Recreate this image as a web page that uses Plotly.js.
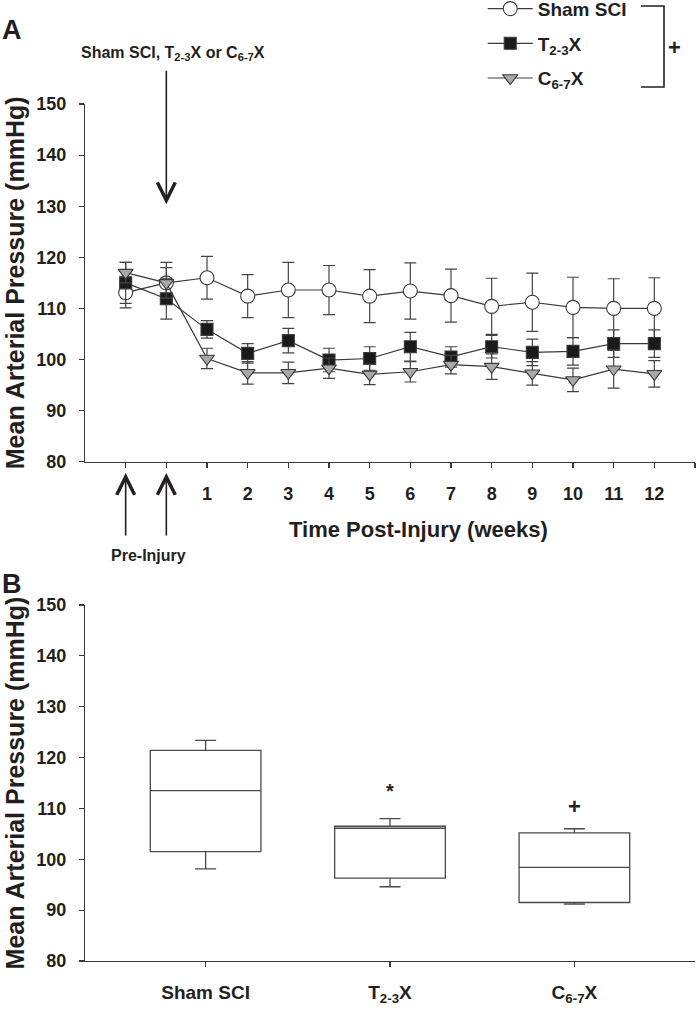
<!DOCTYPE html>
<html><head><meta charset="utf-8">
<script src="https://cdn.plot.ly/plotly-3.0.1.min.js"></script>
<style>html,body{margin:0;padding:0;background:#fff}</style>
</head><body>
<div id="chart" style="width:696px;height:1014px"></div>
<script>
// ---- Panel A data (time course) ----
const timePoints = [-1, 0, 1, 2, 3, 4, 5, 6, 7, 8, 9, 10, 11, 12];
const tickVals = [-1, 0, 1, 2, 3, 4, 5, 6, 7, 8, 9, 10, 11, 12, 13];
const tickLabels = ['', '', '1', '2', '3', '4', '5', '6', '7', '8', '9', '10', '11', '12', ''];
const shamMean = [113.1, 115.0, 116.0, 112.4, 113.6, 113.6, 112.4, 113.4, 112.5, 110.4, 111.2, 110.2, 110.0, 110.0];
const shamErr  = [3.0, 4.0, 4.2, 4.2, 5.4, 4.8, 5.2, 5.5, 5.2, 5.5, 5.7, 5.9, 5.8, 6.0];
const t23Mean  = [115.0, 111.9, 105.9, 101.2, 103.7, 99.9, 100.2, 102.5, 100.5, 102.5, 101.4, 101.6, 103.1, 103.1];
const t23Err   = [4.0, 4.0, 1.7, 1.9, 2.4, 2.3, 2.3, 2.8, 2.0, 2.2, 2.6, 2.7, 2.7, 2.7];
const c67Mean  = [117.0, 115.0, 100.2, 97.4, 97.4, 98.3, 97.1, 97.6, 99.0, 98.6, 97.3, 96.0, 98.1, 97.2];
const c67Err   = [2.0, 3.0, 2.0, 2.2, 2.1, 2.0, 2.0, 2.0, 1.8, 2.5, 2.3, 2.3, 3.7, 2.6];
const groupNames = ['Sham SCI', 'T<sub>2-3</sub>X', 'C<sub>6-7</sub>X'];

// ---- Panel B data (box plots) ----
const boxPos      = [0, 1, 2];
const boxLower    = [98.1, 94.6, 91.2];
const boxQ1       = [101.5, 96.3, 91.5];
const boxMedian   = [113.5, 106.1, 98.4];
const boxQ3       = [121.4, 106.5, 105.2];
const boxUpper    = [123.4, 108.0, 106.0];
const yTicks      = [80, 90, 100, 110, 120, 130, 140, 150];

const FONT = 'Liberation Sans, Arial, Helvetica, sans-serif';
const INK = '#231f20';
const LINE = '#3a3a3a';

function series(name, y, err, symbol, fill, size) {
  return {
    type: 'scatter', mode: 'lines+markers', name: name, legendgroup: name,
    x: timePoints, y: y, xaxis: 'x', yaxis: 'y',
    line: {color: LINE, width: 1.2},
    marker: {symbol: symbol, size: size, color: fill, line: {color: LINE, width: 1.1}},
    error_y: {type: 'data', array: err, visible: true, color: '#444', thickness: 1.2, width: 6}
  };
}

const traces = [
  series(groupNames[0], shamMean, shamErr, 'circle', '#ffffff', 14),
  series(groupNames[1], t23Mean, t23Err, 'square', '#1a1a1a', 12),
  series(groupNames[2], c67Mean, c67Err, 'triangle-down', '#a8a8a8', 13),
  {
    type: 'box', x: boxPos, xaxis: 'x2', yaxis: 'y2', showlegend: false,
    q1: boxQ1, median: boxMedian, q3: boxQ3, lowerfence: boxLower, upperfence: boxUpper,
    width: 0.6, whiskerwidth: 0.19, fillcolor: 'rgba(255,255,255,0)',
    line: {color: '#4a4a4a', width: 1.3}, boxpoints: false, hoverinfo: 'skip'
  }
];

const tickFont = {family: FONT, size: 18, color: INK, weight: 'bold'};
const yTitle = {text: 'Mean Arterial Pressure (mmHg)', font: {family: FONT, size: 25, color: INK, weight: 'bold'}, standoff: 4};

function ann(o) {
  return Object.assign({xanchor: 'center', yanchor: 'middle', showarrow: false}, o);
}

const layout = {
  width: 696, height: 1014,
  margin: {l: 85, r: 1, t: 104, b: 53, autoexpand: false},
  paper_bgcolor: '#fff', plot_bgcolor: '#fff',
  showlegend: true,
  legend: {x: 0.652, xanchor: 'left', y: 1.1333, yanchor: 'top', font: {family: FONT, size: 19, color: INK, weight: 'bold'},
           bgcolor: 'rgba(0,0,0,0)', traceorder: 'grouped', tracegroupgap: 7, itemwidth: 45},
  xaxis: {domain: [0, 1], anchor: 'y', range: [-2, 13], tickvals: tickVals, ticktext: tickLabels,
          ticks: 'outside', ticklen: 5, tickwidth: 1.2, tickcolor: LINE, showline: true, linecolor: LINE, linewidth: 1.2,
          showgrid: false, zeroline: false, tickfont: tickFont, ticklabelstandoff: 10},
  yaxis: {domain: [0.5826, 1], anchor: 'x', range: [80, 150], tickvals: yTicks,
          ticks: 'outside', ticklen: 5, tickwidth: 1.2, tickcolor: LINE, showline: true, linecolor: LINE, linewidth: 1.2,
          showgrid: false, zeroline: false, tickfont: tickFont, ticklabelstandoff: 9, title: yTitle},
  xaxis2: {domain: [0, 1], anchor: 'y2', range: [-0.654, 2.654], tickvals: boxPos, ticktext: groupNames,
          ticks: 'outside', ticklen: 5, tickwidth: 1.2, tickcolor: LINE, showline: true, linecolor: LINE, linewidth: 1.2,
          showgrid: false, zeroline: false, tickfont: {family: FONT, size: 19, color: INK, weight: 'bold'}, ticklabelstandoff: 9},
  yaxis2: {domain: [0, 0.4154], anchor: 'x2', range: [80, 150], tickvals: yTicks,
          ticks: 'outside', ticklen: 5, tickwidth: 1.2, tickcolor: LINE, showline: true, linecolor: LINE, linewidth: 1.2,
          showgrid: false, zeroline: false, tickfont: tickFont, ticklabelstandoff: 9, title: yTitle},
  shapes: [
    {type: 'path', xref: 'paper', yref: 'paper', path: 'M0.9115,1.1144 L0.9492,1.1144 L0.9492,1.0198 L0.9115,1.0198',
     line: {color: INK, width: 1.6}}
  ],
  annotations: [
    ann({text: 'A', xref: 'paper', yref: 'paper', x: -0.1197, y: 1.0864,
     font: {family: FONT, size: 27, color: INK, weight: 'bold'}}),
    ann({text: 'B', xref: 'paper', yref: 'paper', x: -0.1197, y: 0.4399,
     font: {family: FONT, size: 27, color: INK, weight: 'bold'}}),
    ann({text: '+', xref: 'paper', yref: 'paper', x: 0.967, y: 1.0665,
     font: {family: FONT, size: 22, color: INK, weight: 'bold'}}),
    ann({text: 'Sham SCI, T<sub>2-3</sub>X or C<sub>6-7</sub>X', xref: 'x', yref: 'paper', x: 0.156, y: 1.0595,
     font: {family: FONT, size: 16, color: INK, weight: 'bold'}}),
    {text: '', xref: 'x', yref: 'y', x: 0, y: 130.4, ax: 0, ay: -135, showarrow: true,
     arrowhead: 5, arrowsize: 2.2, arrowwidth: 1.6, arrowcolor: INK, standoff: 0},
    {text: '', xref: 'x', yref: 'paper', x: -1, y: 0.5694, ax: 0, ay: 64, showarrow: true,
     arrowhead: 5, arrowsize: 2.2, arrowwidth: 1.6, arrowcolor: INK, standoff: 0},
    {text: '', xref: 'x', yref: 'paper', x: 0, y: 0.5694, ax: 0, ay: 64, showarrow: true,
     arrowhead: 5, arrowsize: 2.2, arrowwidth: 1.6, arrowcolor: INK, standoff: 0},
    ann({text: 'Pre-Injury', xref: 'x', yref: 'paper', x: -0.45, y: 0.473,
     font: {family: FONT, size: 16, color: INK, weight: 'bold'}}),
    ann({text: 'Time Post-Injury (weeks)', xref: 'paper', yref: 'paper', x: 0.546, y: 0.503,
     font: {family: FONT, size: 22, color: INK, weight: 'bold'}}),
    ann({text: '*', xref: 'x2', yref: 'y2', x: 1, y: 113.5,
     font: {family: FONT, size: 20, color: INK, weight: 'bold'}}),
    ann({text: '+', xref: 'x2', yref: 'y2', x: 2, y: 110.3,
     font: {family: FONT, size: 22, color: INK, weight: 'bold'}})
  ]
};

Plotly.newPlot('chart', traces, layout, {displayModeBar: false, staticPlot: true});
</script>
</body></html>
